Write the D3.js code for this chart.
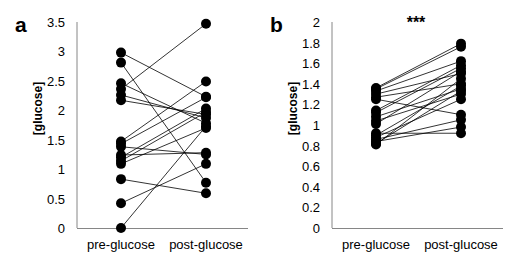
<!DOCTYPE html>
<html>
<head>
<meta charset="utf-8">
<script src="https://cdn.jsdelivr.net/npm/d3@7"></script>
<style>
  body { margin: 0; background: white; }
  text { font-family: Arial, "Liberation Sans", sans-serif; }
</style>
</head>
<body>
<div id="chart"></div>
<script>
// panel a : paired values (pre -> post)
const preA  = [2.98, 2.81, 2.46, 2.36, 2.26, 2.17, 1.47, 1.43, 1.38, 1.24, 1.20, 1.14, 1.09, 0.83, 0.42, 0.00];
const postA = [2.23, 0.77, 1.78, 3.47, 1.87, 1.93, 2.49, 2.22, 1.25, 1.28, 2.03, 1.97, 1.70, 0.59, 1.09, 1.73];
const ticksA = [0, 0.5, 1, 1.5, 2, 2.5, 3, 3.5];

// panel b
const preB  = [1.36, 1.35, 1.33, 1.30, 1.27, 1.25, 1.14, 1.12, 1.08, 1.04, 1.01, 0.92, 0.90, 0.88, 0.86, 0.84, 0.82, 0.81];
const postB = [1.79, 1.76, 1.62, 1.50, 1.40, 1.10, 1.58, 1.55, 1.35, 1.30, 1.52, 0.92, 1.38, 1.25, 1.05, 0.98, 1.33, 1.45];
const ticksB = [0, 0.2, 0.4, 0.6, 0.8, 1, 1.2, 1.4, 1.6, 1.8, 2];

const groups = ['pre-glucose', 'post-glucose'];

const svg = d3.select('#chart').append('svg')
  .attr('width', 519)
  .attr('height', 264);

//draws one panel
function drawPanel(opt){
  const g = svg.append('g');
  const y = d3.scaleLinear().domain([0, opt.max]).range([228, 22]);
  const x = d3.scalePoint().domain(groups).range([opt.left + 44, opt.left + 129]);

  //axes lines
  g.append('line')
    .attr('x1', opt.left).attr('x2', opt.left)
    .attr('y1', y(opt.max)).attr('y2', y(0))
    .attr('stroke', '#868686').attr('stroke-width', 1);
  g.append('line')
    .attr('x1', opt.left).attr('x2', opt.left + 171)
    .attr('y1', y(0) + 0.5).attr('y2', y(0) + 0.5)
    .attr('stroke', '#868686').attr('stroke-width', 1);

  //tick labels
  g.selectAll('.tick')
    .data(opt.ticks)
    .enter()
    .append('text')
    .attr('x', opt.left - 12)
    .attr('y', d => y(d) + 5)
    .attr('text-anchor', 'end')
    .attr('font-size', 13)
    .text(d => d);

  //category labels
  g.selectAll('.cat')
    .data(groups)
    .enter()
    .append('text')
    .attr('x', d => x(d))
    .attr('y', 249)
    .attr('text-anchor', 'middle')
    .attr('font-size', 13)
    .text(d => d);

  //y label
  g.append('text')
    .attr('transform', `translate(${opt.left - 35},${y(opt.max * 0.58)}) rotate(-90)`)
    .attr('text-anchor', 'middle')
    .attr('font-size', 12)
    .attr('font-weight', 'bold')
    .text('[glucose]');

  //panel letter
  g.append('text')
    .attr('x', opt.left - 62)
    .attr('y', 32)
    .attr('font-size', 21)
    .attr('font-weight', 'bold')
    .text(opt.letter);

  //pair lines
  g.selectAll('.pair')
    .data(opt.pre.map((p, i) => [p, opt.post[i]]))
    .enter()
    .append('line')
    .attr('x1', x(groups[0])).attr('x2', x(groups[1]))
    .attr('y1', d => y(d[0])).attr('y2', d => y(d[1]))
    .attr('stroke', 'black').attr('stroke-width', 0.8);

  //dots
  const pts = opt.pre.map(v => [groups[0], v]).concat(opt.post.map(v => [groups[1], v]));
  g.selectAll('.dot')
    .data(pts)
    .enter()
    .append('circle')
    .attr('cx', d => x(d[0]))
    .attr('cy', d => y(d[1]))
    .attr('r', 5)
    .attr('fill', 'black');

  return {g, x, y};
}

drawPanel({left: 77, max: 3.5, ticks: ticksA, pre: preA, post: postA, letter: 'a'});
const pb = drawPanel({left: 332, max: 2, ticks: ticksB, pre: preB, post: postB, letter: 'b'});

//significance stars
pb.g.append('text')
  .attr('x', 416)
  .attr('y', 28)
  .attr('text-anchor', 'middle')
  .attr('font-size', 16)
  .attr('font-weight', 'bold')
  .text('***');
</script>
</body>
</html>
